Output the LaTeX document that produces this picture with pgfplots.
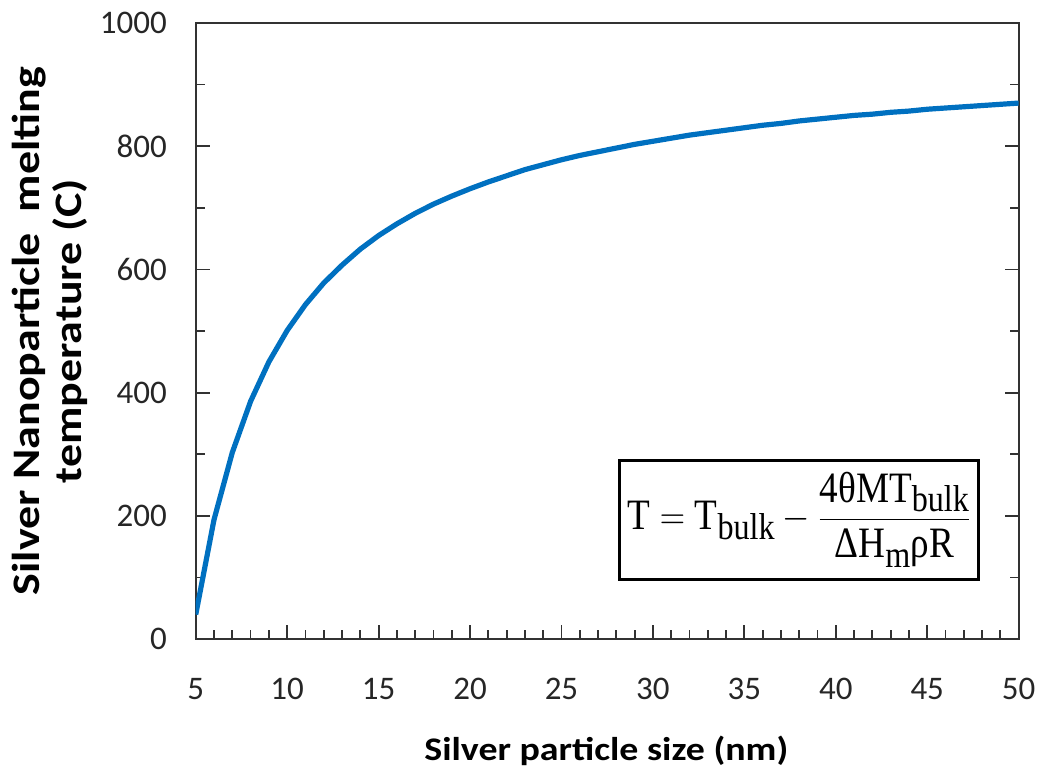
\documentclass[border=0pt]{standalone}
\usepackage{fontspec}
\setmainfont{Carlito}
\newfontfamily\cam{Liberation Serif}
\usepackage{amsmath}
\usepackage{graphicx}
\usepackage{pgfplots}
\pgfplotsset{compat=1.18}
\definecolor{xlblue}{RGB}{0,112,192}
\definecolor{axgray}{RGB}{50,50,50}
\newcommand{\fm}[1]{\mbox{\cam #1}}
\newcommand{\fs}[1]{\raisebox{-5pt}{\cam\fontsize{19}{20}\selectfont #1}}
\begin{document}
\begin{tikzpicture}
\begin{axis}[
  scale only axis,
  width=412pt, height=308.5pt,
  xmin=5, xmax=50, ymin=0, ymax=1000,
  xtick={5,10,...,50}, ytick={0,200,...,1000},
  minor xtick={5,...,50}, minor ytick={100,300,...,900},
  xtick pos=bottom, ytick pos=both,
  tick align=inside,
  major tick length=7pt, minor tick length=4.5pt,
  every tick/.style={axgray, line width=0.9pt},
  axis line style={axgray, line width=1pt},
  /pgf/number format/assume math mode=true,
  /pgf/number format/1000 sep={},
  tick label style={font=\fontsize{16.5}{18}\selectfont, text=black!85},
  xticklabel style={yshift=-16pt},
  yticklabel style={xshift=-11pt},
  xlabel={\scalebox{1.15}[1]{\bfseries Silver particle size (nm)}},
  ylabel={\scalebox{1.18}[1]{\bfseries Silver Nanoparticle\ \ melting}\\\scalebox{1.18}[1]{\bfseries temperature (C)}},
  xlabel style={font=\fontsize{16.5}{19}\selectfont, at={(axis description cs:0.499,-0.182)}, anchor=center},
  ylabel style={font=\fontsize{19.5}{21}\selectfont, at={(axis description cs:-0.177,0.5)}, anchor=center, align=center},
]
\addplot[xlblue, line width=2.6pt, line join=round] coordinates {
(5,40) (6,194) (7,303) (8,386) (9,450) (10,501) (11,543) (12,578) (13,607)
(14,633) (15,655) (16,674) (17,691) (18,706) (19,719) (20,731) (21,742)
(22,752) (23,762) (24,770) (25,778) (26,785) (27,791) (28,797) (29,803)
(30,808) (31,813) (32,818) (33,822) (34,826) (35,830) (36,834) (37,837)
(38,841) (39,844) (40,847) (41,850) (42,852) (43,855) (44,857) (45,860)
(46,862) (47,864) (48,866) (49,868) (50,870)
};
\node[draw=black, line width=1.5pt, fill=white, minimum width=179.5pt, minimum height=59.5pt, inner sep=0pt, font=\fontsize{22}{24}\selectfont]
  at (axis cs:38.0,194.0)
  {\resizebox*{172pt}{48pt}{$\fm{T} = \fm{T}\fs{bulk} - \dfrac{\fm{4θMT}\fs{bulk}}{\fm{ΔH}\fs{m}\fm{ρR}}$}};
\end{axis}
\path (current axis.south west) ++(-98pt,-69pt) coordinate (bbA);
\path (current axis.north east) ++(11pt,11.5pt) coordinate (bbB);
\path[use as bounding box] (bbA) rectangle (bbB);
\end{tikzpicture}
\end{document}
